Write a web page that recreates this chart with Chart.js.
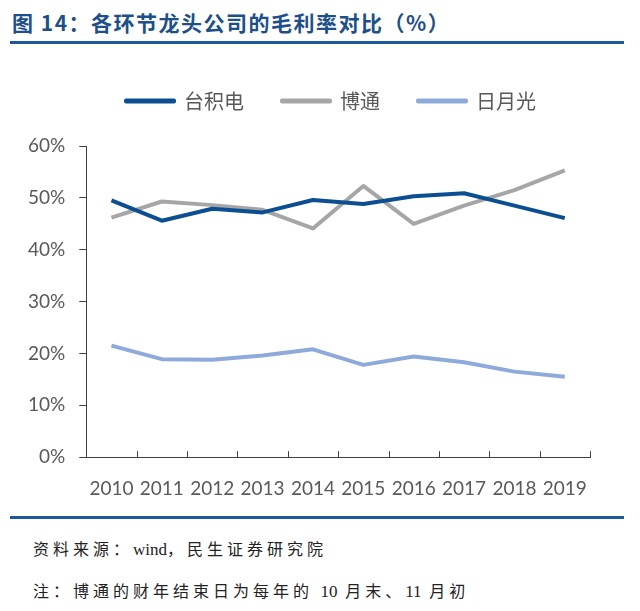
<!DOCTYPE html>
<html>
<head>
<meta charset="utf-8">
<script src="https://cdn.jsdelivr.net/npm/chart.js@4"></script>
<style>
  body { margin: 0; background: #fff; width: 640px; height: 611px; position: relative; overflow: hidden; }
  .title { position: absolute; left: 12px; top: 7px; font: bold 21px "Noto Sans CJK SC", sans-serif; color: #1d4f8a; letter-spacing: 1.5px; }
  .rule { position: absolute; left: 10px; width: 614px; height: 3px; background: #1d5a9c; }
  .note { position: absolute; left: 33px; font: 16px "Noto Sans CJK SC", serif; color: #222; letter-spacing: 4px; }
  .note span { font: 17px "Liberation Serif", serif; letter-spacing: 0; }
  #wrap { position: absolute; left: 0; top: 53px; width: 640px; height: 459px; }
</style>
</head>
<body>
<div class="title">图 14：各环节龙头公司的毛利率对比（%）</div>
<div class="rule" style="top:41px"></div>
<div id="wrap"><canvas id="chart"></canvas></div>
<div class="rule" style="top:516px"></div>
<div class="note" style="top:536px">资料来源：<span>wind</span>，民生证券研究院</div>
<div class="note" style="top:578px">注：博通的财年结束日为每年的 <span>10</span> 月末、<span>11</span> 月初</div>
<script>
// 毛利率 (%)
const years = ['2010', '2011', '2012', '2013', '2014', '2015', '2016', '2017', '2018', '2019'];
const tsmc = [49.5, 45.6, 47.9, 47.2, 49.6, 48.8, 50.3, 50.9, 48.5, 46.1];
const broadcom = [46.2, 49.3, 48.6, 47.7, 44.1, 52.3, 45.0, 48.5, 51.5, 55.3];
const ase = [21.5, 18.9, 18.8, 19.6, 20.8, 17.8, 19.4, 18.3, 16.5, 15.5];

const axisColor = '#404040';
const labelColor = '#595959';

// x-axis tick marks point up into the plot, at category boundaries
const innerTicks = {
  id: 'innerTicks',
  afterDraw(chart) {
    const x = chart.scales.x;
    const ctx = chart.ctx;
    const half = (x.getPixelForValue(1) - x.getPixelForValue(0)) / 2;
    ctx.save();
    ctx.strokeStyle = axisColor;
    ctx.lineWidth = 1;
    for (let i = 0; i <= years.length; i++) {
      const px = Math.round(x.getPixelForValue(i) - half) + 0.5;
      ctx.beginPath();
      ctx.moveTo(px, x.top);
      ctx.lineTo(px, x.top - 6);
      ctx.stroke();
    }
    ctx.restore();
  }
};

// legend sits higher and a bit right of centre, leaving a gap above the plot
const legendShift = {
  id: 'legendShift',
  afterLayout(chart) {
    const lg = chart.legend;
    lg.top -= 25; lg.bottom -= 25;
    lg.left += 29; lg.right += 29;
  }
};

function line(label, data, color) {
  return {
    label: label,
    data: data,
    borderColor: color,
    backgroundColor: color,
    borderWidth: 4,
    pointRadius: 0,
    tension: 0,
    borderJoinStyle: 'round'
  };
}

new Chart(document.getElementById('chart'), {
  type: 'line',
  data: {
    labels: years,
    datasets: [
      line('台积电', tsmc, '#0b4f92'),
      line('博通', broadcom, '#a6a6a6'),
      line('日月光', ase, '#8eaadb')
    ]
  },
  plugins: [innerTicks, legendShift],
  options: {
    responsive: true,
    maintainAspectRatio: false,
    animation: false,
    layout: { padding: { left: 14, right: 50, top: 25, bottom: 0 } },
    plugins: {
      legend: {
        position: 'top',
        labels: {
          boxWidth: 48,
          boxHeight: 1,
          padding: 38,
          color: labelColor,
          font: { family: '"Noto Sans CJK SC", sans-serif', size: 20 }
        }
      },
      tooltip: { enabled: false }
    },
    scales: {
      x: {
        offset: true,
        grid: { display: false, offset: true },
        border: { color: axisColor, width: 1 },
        ticks: {
          color: labelColor,
          padding: 12,
          maxRotation: 0,
          font: { family: 'Lato, sans-serif', size: 19 }
        }
      },
      y: {
        min: 0,
        max: 60,
        grid: { drawOnChartArea: false, tickLength: 7, color: axisColor },
        border: { color: axisColor, width: 1 },
        ticks: {
          stepSize: 10,
          color: labelColor,
          padding: 14,
          font: { family: 'Lato, sans-serif', size: 19 },
          callback: v => v + '%'
        }
      }
    }
  }
});
</script>
</body>
</html>
